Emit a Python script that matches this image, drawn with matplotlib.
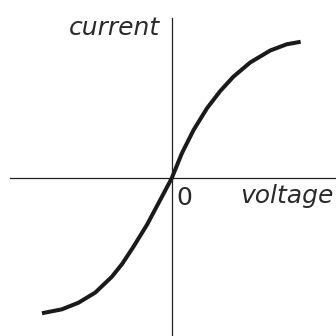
import matplotlib.pyplot as plt

# (arbitrary units, origin where the axes cross)
voltage = [-0.998, -0.845, -0.717, -0.588, -0.460, -0.381, -0.294, -0.191, -0.102,
           0.0, 0.078, 0.168, 0.271, 0.373, 0.475, 0.604, 0.758, 0.885, 0.992]
current = [-1.038, -1.008, -0.957, -0.879, -0.757, -0.658, -0.526, -0.359, -0.192,
           0.0, 0.192, 0.371, 0.538, 0.671, 0.782, 0.891, 0.983, 1.031, 1.050]

x_label = "voltage"
y_label = "current"
origin_label = "0"

fig = plt.figure(figsize=(3.36, 3.36), dpi=100)
ax = fig.add_axes([0, 0, 1, 1])
ax.set_xlim(-1.3208, 1.2638)
ax.set_ylim(-1.2131, 1.3715)
ax.axis("off")

# axes drawn by hand
ax.plot([-1.243, 1.264], [0, 0], color="#222222", lw=0.9, zorder=1)
ax.plot([0, 0], [-1.213, 1.23], color="#222222", lw=0.9, zorder=1)

# the characteristic curve
ax.plot(voltage, current, color="#1a1a1a", lw=2.9, solid_capstyle="butt",
        solid_joinstyle="round", zorder=2)

# labels
ax.text(-0.09, 1.102, y_label, ha="right", va="baseline", fontsize=18,
        style="italic", color="#2a2a2a")
ax.text(1.245, -0.19, x_label, ha="right", va="baseline", fontsize=18,
        style="italic", color="#2a2a2a")
ax.text(0.033, -0.205, origin_label, ha="left", va="baseline", fontsize=18,
        color="#2a2a2a")

fig.savefig("out.png", dpi=100)
